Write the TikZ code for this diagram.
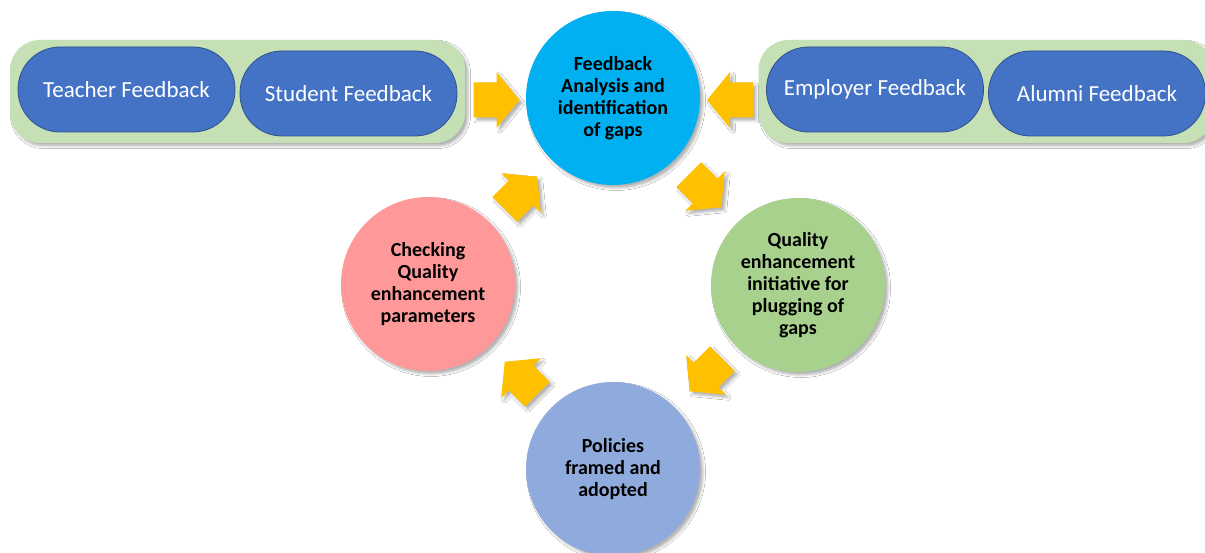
\documentclass[tikz,border=0pt]{standalone}
\usepackage{fontspec}
\setmainfont{Carlito}
\usetikzlibrary{shadows.blur}

\definecolor{cyanc}{HTML}{00B0F0}
\definecolor{greenc}{HTML}{A9D18E}
\definecolor{pinkc}{HTML}{FF9999}
\definecolor{bluec}{HTML}{8FAADC}
\definecolor{pillc}{HTML}{4472C4}
\definecolor{pillline}{HTML}{2F528F}
\definecolor{groupc}{HTML}{C5E0B4}
\definecolor{arrowc}{HTML}{FFC000}

\tikzset{
  softshadow/.style={blur shadow={shadow xshift=3pt, shadow yshift=-3pt,
      shadow blur radius=2.5pt, shadow opacity=30}},
  stage/.style={circle, minimum size=174pt, inner sep=0pt, align=center,
      font=\bfseries\fontsize{20}{22}\selectfont, text=black, softshadow},
  pill/.style={rounded corners=42pt, minimum width=217pt, minimum height=85pt,
      fill=pillc, draw=pillline, line width=0.8pt, text=white,
      font=\fontsize{23}{27}\selectfont},
  group/.style={fill=groupc, rounded corners=30pt, minimum width=455pt,
      minimum height=103pt, softshadow},
  pics/blockarrow/.style={code={
      \fill[arrowc, softshadow] (-23,-17.5) -- (0,-17.5) -- (0,-28) -- (23,0)
        -- (0,28) -- (0,17.5) -- (-23,17.5) -- cycle;}}
}

\begin{document}
\begin{tikzpicture}[x=1pt, y=-1pt]
  \clip (0,0) rectangle (1205,553);
  \fill[white] (0,0) rectangle (1205,553);

  % feedback source groups
  \node[group] (leftgroup) at (237.5,91.5) {};
  \node[group] (rightgroup) at (986,91.5) {};
  \node[pill] (teacher) at (126.5,89.5) {Teacher Feedback};
  \node[pill] (student) at (348.5,93.5) {Student Feedback};
  \node[pill] (employer) at (875,89.5) {Employer Feedback};
  \node[pill] (alumni) at (1097,93.5) {Alumni Feedback};

  % cycle stages
  \node[stage, fill=cyanc] (analysis) at (613,98)
    {Feedback\\Analysis and\\identification\\of gaps};
  \node[stage, fill=greenc] (initiative) at (798,285)
    {Quality\\enhancement\\initiative for\\plugging of\\gaps};
  \node[stage, fill=bluec] (policies) at (613,469)
    {Policies\\framed and\\adopted};
  \node[stage, fill=pinkc] (checking) at (428,284)
    {Checking\\Quality\\enhancement\\parameters};

  % block arrows
  \pic (arrowin1) at (496.5,100) {blockarrow};
  \pic[rotate=180] (arrowin2) at (730,100) {blockarrow};
  \pic[rotate=-45] (arrowc1) at (705,191) {blockarrow};
  \pic[rotate=-135] (arrowc2) at (706,375) {blockarrow};
  \pic[rotate=135] (arrowc3) at (521,378) {blockarrow};
  \pic[rotate=45] (arrowc4) at (521,193) {blockarrow};
\end{tikzpicture}
\end{document}
